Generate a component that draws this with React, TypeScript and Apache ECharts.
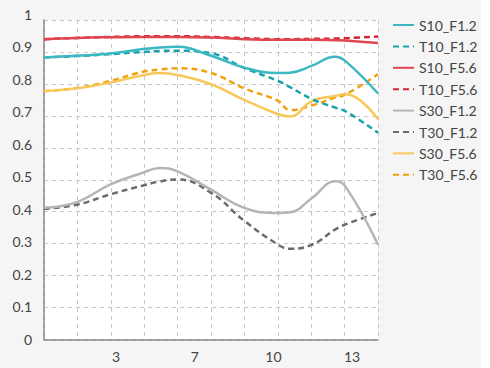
import React, { useEffect, useRef } from "react";
import * as echarts from "echarts";

// x positions of the sampled points (in the label units of the x-axis)
const xs = [0.28, 1.68, 3.08, 4.48, 5.2, 5.92, 7.36, 8.76, 10.2, 10.7, 11.64, 12.61, 13.04, 14.43];

const s10f12 = [0.883, 0.888, 0.895, 0.909, 0.914, 0.916, 0.888, 0.851, 0.834, 0.835, 0.857, 0.885, 0.872, 0.77];
const t10f12 = [0.883, 0.887, 0.893, 0.9, 0.903, 0.904, 0.896, 0.85, 0.809, 0.79, 0.752, 0.726, 0.715, 0.647];
const s10f56 = [0.94, 0.944, 0.946, 0.947, 0.947, 0.947, 0.945, 0.94, 0.938, 0.938, 0.938, 0.937, 0.936, 0.928];
const t10f56 = [0.94, 0.944, 0.947, 0.949, 0.949, 0.949, 0.947, 0.943, 0.94, 0.94, 0.941, 0.942, 0.943, 0.948];
const s30f12 = [0.412, 0.43, 0.485, 0.522, 0.537, 0.527, 0.469, 0.412, 0.396, 0.398, 0.443, 0.495, 0.48, 0.297];
const t30f12 = [0.409, 0.422, 0.454, 0.482, 0.495, 0.501, 0.459, 0.372, 0.297, 0.284, 0.297, 0.344, 0.36, 0.396];
const s30f56 = [0.778, 0.786, 0.804, 0.827, 0.834, 0.828, 0.799, 0.75, 0.705, 0.698, 0.747, 0.762, 0.768, 0.689];
const t30f56 = [0.778, 0.787, 0.809, 0.838, 0.845, 0.849, 0.834, 0.786, 0.747, 0.718, 0.733, 0.757, 0.766, 0.83];

const seriesNames = ["S10_F1.2", "T10_F1.2", "S10_F5.6", "T10_F5.6", "S30_F1.2", "T30_F1.2", "S30_F5.6", "T30_F5.6"];
const seriesValues = [s10f12, t10f12, s10f56, t10f56, s30f12, t30f12, s30f56, t30f56];
const seriesColors = ["#3cb8c2", "#1aa2ad", "#e0464f", "#cf2632", "#b5b5b5", "#686c72", "#f7c85a", "#f0a20c"];
const seriesDashed = [false, true, false, true, false, true, false, true];

const xTickValues = [3.333, 6.667, 10, 13.333];
const xMin = 0.284;
const xMax = 14.43;

export default function App() {
  const ref = useRef<HTMLDivElement>(null);
  useEffect(() => {
    if (!ref.current) return;
    const chart = echarts.init(ref.current, null, { renderer: "svg" });
    const font = "Lato";
    const series = seriesNames.map((name, i) => ({
      name,
      type: "line",
      xAxisIndex: 1,
      yAxisIndex: 0,
      smooth: 0.45,
      symbol: "none",
      data: xs.map((x, j) => [x, seriesValues[i][j]]),
      lineStyle: {
        color: seriesColors[i],
        width: 2.5,
        type: seriesDashed[i] ? [6, 4] : "solid",
      },
      itemStyle: { color: seriesColors[i] },
      z: 10 - i,
    }));
    chart.setOption({
      animation: false,
      backgroundColor: "#f5f5f5",
      textStyle: { fontFamily: font },
      grid: [
        { left: 44, right: 103, top: 20, bottom: 28.5, show: true, backgroundColor: "#ffffff", borderWidth: 0, containLabel: false },
        { left: 44, right: 103, top: 14, bottom: 29, show: false, containLabel: false },
      ],
      xAxis: [
        {
          gridIndex: 0, type: "value", min: 0, max: 10, interval: 1,
          axisLine: { show: true, lineStyle: { color: "#888", width: 1.5 } },
          axisTick: { show: false }, axisLabel: { show: false },
          splitLine: { show: true, lineStyle: { color: "#c8c8c8", type: [4, 4], width: 1 } },
        },
        {
          gridIndex: 0, type: "value", min: xMin, max: xMax,
          axisLine: { show: false }, axisTick: { show: false }, axisLabel: { show: false }, splitLine: { show: false },
        },
        {
          gridIndex: 1, type: "value", min: xMin, max: xMax,
          axisLine: { show: false }, axisTick: { show: false }, splitLine: { show: false },
          axisLabel: {
            show: true, customValues: xTickValues, margin: 10,
            formatter: (v: number) => String(Math.round(v)),
            color: "#444", fontSize: 14, fontFamily: font,
          },
        },
      ],
      yAxis: [
        {
          gridIndex: 0, type: "value", min: 0, max: 1, interval: 0.1,
          axisLine: { show: true, lineStyle: { color: "#888", width: 1.5 } },
          axisTick: { show: false }, axisLabel: { show: false },
          splitLine: { show: true, lineStyle: { color: "#c8c8c8", type: [4, 4], width: 1 } },
        },
        {
          gridIndex: 1, type: "value", min: 0, max: 1, interval: 0.1,
          axisLine: { show: false }, axisTick: { show: false }, splitLine: { show: false },
          axisLabel: { show: true, margin: 12, color: "#444", fontSize: 14, fontFamily: font },
        },
      ],
      legend: {
        orient: "vertical",
        left: 392,
        top: 18,
        padding: 0,
        itemWidth: 21,
        itemHeight: 14,
        itemGap: 7.4,
        data: seriesNames,
        itemStyle: { opacity: 0 },
        textStyle: { color: "#444", fontSize: 14, fontFamily: font, lineHeight: 14 },
      },
      series,
    });
    return () => chart.dispose();
  }, []);
  return <div ref={ref} style={{ position: "absolute", left: 0, top: 0, width: 481, height: 368 }} />;
}
